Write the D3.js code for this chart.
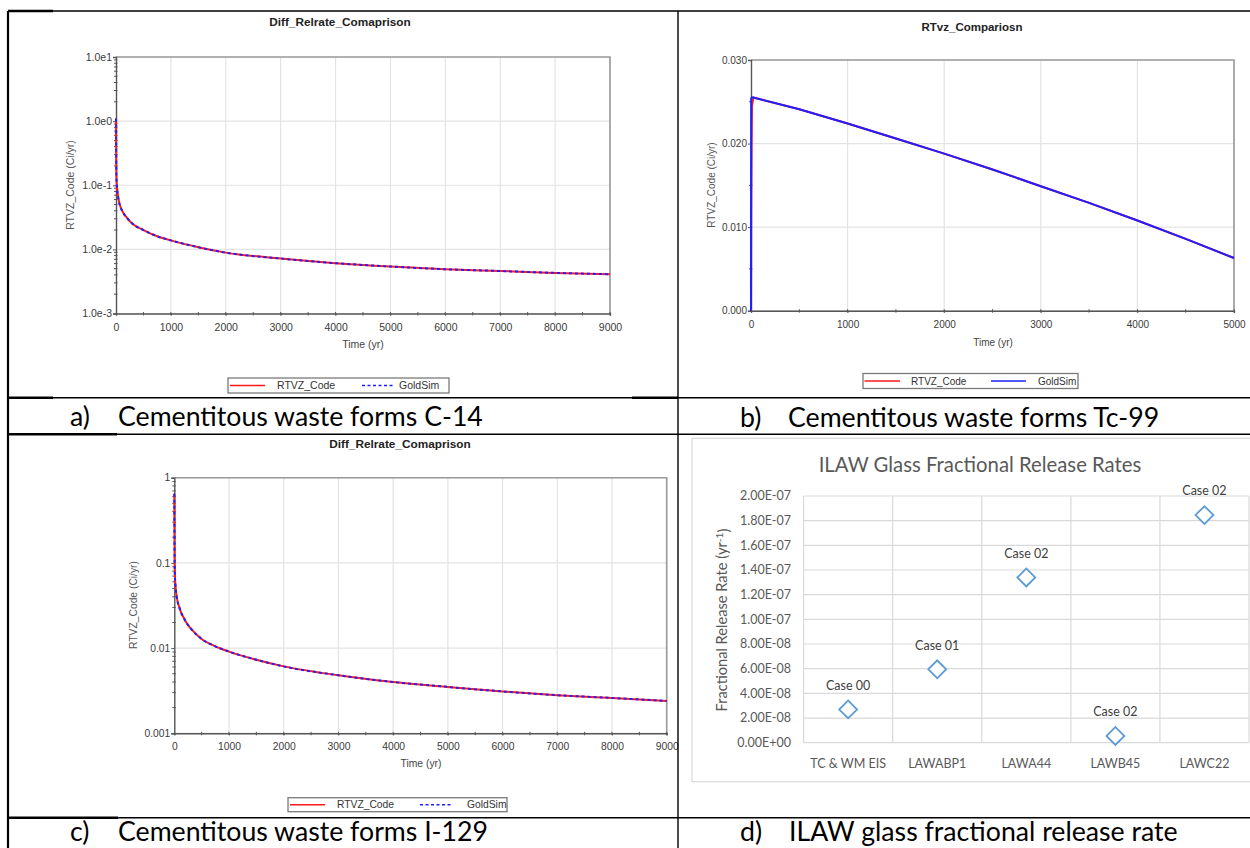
<!DOCTYPE html>
<html><head><meta charset="utf-8">
<script src="https://cdn.jsdelivr.net/npm/d3@7"></script>
<style>body{margin:0;background:#fff}svg{display:block}</style>
</head><body>
<svg id="c" width="1250" height="848"></svg>
<script>
// ---------------- DATA ----------------
const seriesNames = ["RTVZ_Code", "GoldSim"];

// a) C-14
const c14Time    = [0, 2, 5, 10, 20, 30, 50, 100, 200, 300, 500, 750, 1000, 1500, 2000, 3000, 4000, 5000, 6000, 7000, 8000, 9000];
const c14Rtvz    = [1.1, 0.5, 0.2, 0.12, 0.09, 0.075, 0.058, 0.042, 0.031, 0.025, 0.020, 0.016, 0.0138, 0.0108, 0.0089, 0.0072, 0.0061, 0.0054, 0.0049, 0.0046, 0.0043, 0.0041];
const c14GoldSim = [1.1, 0.5, 0.2, 0.12, 0.09, 0.075, 0.058, 0.042, 0.031, 0.025, 0.020, 0.016, 0.0138, 0.0108, 0.0089, 0.0072, 0.0061, 0.0054, 0.0049, 0.0046, 0.0043, 0.0041];
const c14YTicks  = [10, 1, 0.1, 0.01, 0.001];
const c14YLabels = ["1.0e1", "1.0e0", "1.0e-1", "1.0e-2", "1.0e-3"];

// b) Tc-99
const tcTime    = [0, 2, 6, 10, 25, 500, 1000, 1500, 2000, 2500, 3000, 3500, 4000, 4500, 5000];
const tcRtvz    = [0, 0.012, 0.020, 0.0245, 0.0255, 0.0241, 0.0224, 0.0206, 0.0188, 0.0169, 0.0149, 0.0129, 0.0108, 0.0086, 0.0063];
const tcGoldSim = [0, 0.0254, 0.0255, 0.0255, 0.0255, 0.0241, 0.0224, 0.0206, 0.0188, 0.0169, 0.0149, 0.0129, 0.0108, 0.0086, 0.0063];
const tcYTicks  = [0, 0.01, 0.02, 0.03];
const tcYLabels = ["0.000", "0.010", "0.020", "0.030"];

// c) I-129
const iTime    = [0, 2, 5, 10, 20, 40, 100, 200, 300, 500, 750, 1000, 1500, 2000, 3000, 4000, 5000, 6000, 7000, 8000, 9000];
const iRtvz    = [0.65, 0.3, 0.12, 0.075, 0.056, 0.042, 0.029, 0.021, 0.017, 0.0128, 0.0105, 0.0091, 0.0073, 0.0061, 0.0048, 0.0040, 0.0035, 0.0031, 0.0028, 0.0026, 0.0024];
const iGoldSim = [0.65, 0.3, 0.12, 0.075, 0.056, 0.042, 0.029, 0.021, 0.017, 0.0128, 0.0105, 0.0091, 0.0073, 0.0061, 0.0048, 0.0040, 0.0035, 0.0031, 0.0028, 0.0026, 0.0024];
const iYTicks  = [1, 0.1, 0.01, 0.001];
const iYLabels = ["1", "0.1", "0.01", "0.001"];

// d) ILAW glass
const ilawCategories = ["TC & WM EIS", "LAWABP1", "LAWA44", "LAWB45", "LAWC22"];
const ilawRates      = [2.7e-8, 5.95e-8, 1.34e-7, 5.5e-9, 1.845e-7];
const ilawCases      = ["Case 00", "Case 01", "Case 02", "Case 02", "Case 02"];
const ilawYTicks     = [0, 2e-8, 4e-8, 6e-8, 8e-8, 1e-7, 1.2e-7, 1.4e-7, 1.6e-7, 1.8e-7, 2e-7];
const ilawYLabels    = ["0.00E+00", "2.00E-08", "4.00E-08", "6.00E-08", "8.00E-08", "1.00E-07", "1.20E-07", "1.40E-07", "1.60E-07", "1.80E-07", "2.00E-07"];

const captions = [
  ["a)", "Cementitous waste forms C-14"],
  ["b)", "Cementitous waste forms Tc-99"],
  ["c)", "Cementitous waste forms I-129"],
  ["d)", "ILAW glass fractional release rate"]
];

// ---------------- DRAWING ----------------
const svg = d3.select("#c");
const ARIAL = "'Liberation Sans', Arial, sans-serif";
const CAL = "Lato, 'Open Sans', sans-serif";

function fitWidth(sel, w) {
  const l = sel.node().getComputedTextLength();
  const fs = parseFloat(sel.attr("font-size"));
  sel.attr("font-size", fs * w / l);
  return fs * w / l;
}

function goldPanel(p) {
  const g = svg.append("g");
  const x = d3.scaleLinear().domain(p.xDomain).range([p.left, p.right]);
  const y = (p.log ? d3.scaleLog() : d3.scaleLinear()).domain(p.yDomain).range([p.bottom, p.top]);
  const xGrid = d3.range(p.xDomain[0] + p.xStep, p.xDomain[1] + 1, p.xStep);
  g.selectAll(".vg").data(xGrid).join("line")
    .attr("x1", d => x(d)).attr("x2", d => x(d)).attr("y1", p.top).attr("y2", p.bottom)
    .attr("stroke", "#e3e3e3").attr("stroke-width", 1.2);
  g.selectAll(".hg").data(p.yTicks).join("line")
    .attr("x1", p.left).attr("x2", p.right).attr("y1", d => y(d)).attr("y2", d => y(d))
    .attr("stroke", "#e3e3e3").attr("stroke-width", 1.2);
  g.append("path").attr("d", `M${p.left},${p.top}H${p.right}V${p.bottom}`)
    .attr("fill", "none").attr("stroke", "#9a9a9a").attr("stroke-width", 1.6);
  const minor = [];
  if (p.log) {
    const lo = Math.log10(p.yDomain[0]), hi = Math.log10(p.yDomain[1]);
    for (let e = lo; e < hi; e++) for (let k = 2; k <= 9; k++) minor.push(k * Math.pow(10, e));
  } else {
    for (let i = 0; i < p.yTicks.length - 1; i++) minor.push((p.yTicks[i] + p.yTicks[i + 1]) / 2);
  }
  g.selectAll(".ym").data(minor).join("line")
    .attr("x1", p.left - 2).attr("x2", p.left + 1.5).attr("y1", d => y(d)).attr("y2", d => y(d))
    .attr("stroke", "#555").attr("stroke-width", 1);
  const xMinor = d3.range(p.xDomain[0] + p.xStep / 2, p.xDomain[1], p.xStep);
  g.selectAll(".xm").data(xMinor.concat(xGrid)).join("line")
    .attr("x1", d => x(d)).attr("x2", d => x(d)).attr("y1", p.bottom - 1.5).attr("y2", p.bottom + 2)
    .attr("stroke", "#555").attr("stroke-width", 1);
  const ya = g.append("g").attr("transform", `translate(${p.left},0)`)
    .call(d3.axisLeft(y).tickValues(p.yTicks).tickFormat((d, i) => p.yLabels[i]).tickSize(3).tickPadding(1));
  const xa = g.append("g").attr("transform", `translate(0,${p.bottom})`)
    .call(d3.axisBottom(x).tickValues([0].concat(xGrid)).tickFormat(d3.format("d")).tickSize(2).tickPadding(p.xPad));
  [ya, xa].forEach(a => {
    a.select(".domain").attr("stroke", "#555").attr("stroke-width", 1.4);
    a.selectAll(".tick line").attr("stroke", "#555");
    a.selectAll("text").attr("font-family", ARIAL).attr("font-size", p.fs).attr("fill", "#3a3a3a");
  });
  const line = d3.line().x(d => x(d[0])).y(d => y(d[1])).curve(p.log ? d3.curveMonotoneX : d3.curveLinear);
  g.append("path").datum(p.time.map((t, i) => [t, p.s1[i]])).attr("d", line)
    .attr("fill", "none").attr("stroke", "#ff1a1a").attr("stroke-width", 2);
  g.append("path").datum(p.time.map((t, i) => [t, p.s2[i]])).attr("d", line)
    .attr("fill", "none").attr("stroke", "#1f1fff").attr("stroke-width", 2)
    .attr("stroke-dasharray", p.dashed ? "3,3" : null);
  g.append("text").attr("x", p.titleX).attr("y", p.titleY).attr("text-anchor", "middle")
    .attr("font-family", ARIAL).attr("font-weight", "bold").attr("font-size", p.titleFs).attr("fill", "#222").text(p.title);
  g.append("text").attr("x", p.xLabelX).attr("y", p.xLabelY).attr("text-anchor", "middle")
    .attr("font-family", ARIAL).attr("font-size", p.fs).attr("fill", "#444").text("Time (yr)");
  g.append("text").attr("transform", `translate(${p.yLabelX},${p.yLabelY}) rotate(-90)`).attr("dy", "0.35em")
    .attr("text-anchor", "middle").attr("font-family", ARIAL).attr("font-size", p.fs).attr("fill", "#555").text("RTVZ_Code (Ci/yr)");
  const L = p.legend;
  const lg = g.append("g");
  lg.append("rect").attr("x", L.x).attr("y", L.y).attr("width", L.w).attr("height", L.h)
    .attr("fill", "#fff").attr("stroke", "#7a7a7a").attr("stroke-width", 1.3);
  const cy = L.y + L.h / 2;
  lg.append("line").attr("x1", L.x + L.o[0]).attr("x2", L.x + L.o[1]).attr("y1", cy).attr("y2", cy)
    .attr("stroke", "#ff1a1a").attr("stroke-width", 1.6);
  lg.append("text").attr("x", L.x + L.o[2]).attr("y", cy).attr("dy", "0.36em")
    .attr("font-family", ARIAL).attr("font-size", p.fs).attr("fill", "#333").text(seriesNames[0]);
  lg.append("line").attr("x1", L.x + L.o[3]).attr("x2", L.x + L.o[4]).attr("y1", cy).attr("y2", cy)
    .attr("stroke", "#1f1fff").attr("stroke-width", 1.6).attr("stroke-dasharray", p.dashed ? "3,2.5" : null);
  lg.append("text").attr("x", L.x + L.o[5]).attr("y", cy).attr("dy", "0.36em")
    .attr("font-family", ARIAL).attr("font-size", p.fs).attr("fill", "#333").text(seriesNames[1]);
}

goldPanel({
  log: true, xDomain: [0, 9000], yDomain: [0.001, 10], xStep: 1000,
  left: 116, right: 610, top: 57, bottom: 313.5,
  yTicks: c14YTicks, yLabels: c14YLabels, time: c14Time, s1: c14Rtvz, s2: c14GoldSim, dashed: true,
  fs: 10.5, xPad: 8, title: "Diff_Relrate_Comaprison", titleX: 340, titleY: 26, titleFs: 11.8,
  xLabelX: 363, xLabelY: 348, yLabelX: 70, yLabelY: 185,
  legend: { x: 228, y: 378, w: 221, h: 15, o: [2, 37, 49, 134, 165, 171] }
});
goldPanel({
  log: false, xDomain: [0, 5000], yDomain: [0, 0.03], xStep: 1000,
  left: 751, right: 1234, top: 60, bottom: 310.7,
  yTicks: tcYTicks, yLabels: tcYLabels, time: tcTime, s1: tcRtvz, s2: tcGoldSim, dashed: false,
  fs: 10, xPad: 8, title: "RTvz_Compariosn", titleX: 972, titleY: 31, titleFs: 11.5,
  xLabelX: 993, xLabelY: 346, yLabelX: 711, yLabelY: 185,
  legend: { x: 863, y: 373.5, w: 215, h: 15, o: [1.5, 37, 48, 128, 163, 175] }
});
goldPanel({
  log: true, xDomain: [0, 9000], yDomain: [0.001, 1], xStep: 1000,
  left: 174.3, right: 666.7, top: 477.7, bottom: 733.3,
  yTicks: iYTicks, yLabels: iYLabels, time: iTime, s1: iRtvz, s2: iGoldSim, dashed: true,
  fs: 10.3, xPad: 7, title: "Diff_Relrate_Comaprison", titleX: 400, titleY: 448, titleFs: 11.8,
  xLabelX: 421, xLabelY: 767, yLabelX: 133, yLabelY: 605,
  legend: { x: 288, y: 797.7, w: 219, h: 14, o: [2, 37, 49, 132, 164, 179] }
});

// panel d (Excel-style)
(function () {
  const g = svg.append("g");
  const left = 803.6, right = 1249, top = 496, bottom = 742.7;
  g.append("rect").attr("x", 692).attr("y", 438.3).attr("width", 620).attr("height", 343.4)
    .attr("fill", "#fff").attr("stroke", "#d9d9d9").attr("stroke-width", 1.2);
  const x = d3.scaleBand().domain(ilawCategories).range([left, right]).padding(0);
  const y = d3.scaleLinear().domain([0, 2e-7]).range([bottom, top]);
  g.selectAll(".hg").data(ilawYTicks).join("line")
    .attr("x1", left).attr("x2", right).attr("y1", d => y(d)).attr("y2", d => y(d))
    .attr("stroke", "#d9d9d9").attr("stroke-width", 1.2);
  const bounds = ilawCategories.map(c => x(c)).concat([right]);
  g.selectAll(".vg").data(bounds).join("line")
    .attr("x1", d => d).attr("x2", d => d).attr("y1", top).attr("y2", bottom)
    .attr("stroke", "#d9d9d9").attr("stroke-width", 1.2);
  g.selectAll(".yl").data(ilawYTicks).join("text")
    .attr("x", 791).attr("y", d => y(d)).attr("dy", "0.35em").attr("text-anchor", "end")
    .attr("font-family", CAL).attr("font-size", 12.5).attr("fill", "#595959")
    .text((d, i) => ilawYLabels[i]);
  g.selectAll(".xl").data(ilawCategories).join("text")
    .attr("x", d => x(d) + x.bandwidth() / 2).attr("y", 763.5).attr("dy", "0.35em").attr("text-anchor", "middle")
    .attr("font-family", CAL).attr("font-size", 12.5).attr("fill", "#595959").text(d => d);
  const sym = d3.symbol().type(d3.symbolSquare).size(160);
  g.selectAll(".pt").data(ilawRates).join("path")
    .attr("d", sym).attr("transform", (d, i) => `translate(${x(ilawCategories[i]) + x.bandwidth() / 2},${y(d)}) rotate(45)`)
    .attr("fill", "#fff").attr("stroke", "#5b9bd5").attr("stroke-width", 1.8);
  g.selectAll(".dl").data(ilawRates).join("text")
    .attr("x", (d, i) => x(ilawCategories[i]) + x.bandwidth() / 2).attr("y", d => y(d) - 24).attr("dy", "0.35em")
    .attr("text-anchor", "middle").attr("font-family", CAL).attr("font-size", 12.5).attr("fill", "#404040")
    .text((d, i) => ilawCases[i]);
  const t = g.append("text").attr("x", 980).attr("y", 465).attr("dy", "0.35em").attr("text-anchor", "middle")
    .attr("font-family", CAL).attr("font-size", 19).attr("fill", "#595959").text("ILAW Glass Fractional Release Rates");
  fitWidth(t, 323);
  const yt = g.append("text").attr("transform", "translate(722,620) rotate(-90)").attr("dy", "0.35em")
    .attr("text-anchor", "middle").attr("font-family", CAL).attr("font-size", 13.5).attr("fill", "#595959");
  yt.append("tspan").text("Fractional Release Rate (yr");
  yt.append("tspan").attr("dy", "-0.45em").attr("font-size", "0.7em").text("-1");
  yt.append("tspan").attr("dy", "0.45em").text(")");
  fitWidth(yt, 183);
})();

// ---------------- TABLE ----------------
const tg = svg.append("g").attr("stroke", "#000");
[11, 397.7, 434.3, 817.8].forEach(yy => tg.append("line").attr("x1", 8).attr("x2", 1250).attr("y1", yy).attr("y2", yy).attr("stroke-width", 1.4));
[8, 678].forEach(xx => tg.append("line").attr("x1", xx).attr("x2", xx).attr("y1", 11).attr("y2", 848).attr("stroke-width", 1.4));
[[8, 53, 11], [8, 53, 397.7], [8, 117, 434.3], [8, 118, 817.8], [632, 678, 397.7]].forEach(s =>
  tg.append("line").attr("x1", s[0]).attr("x2", s[1]).attr("y1", s[2]).attr("y2", s[2]).attr("stroke-width", 2.4));
tg.append("line").attr("x1", 8).attr("x2", 8).attr("y1", 11).attr("y2", 848).attr("stroke-width", 2.2);

// captions
const capPos = [[70, 118, 426], [740, 788, 426.5], [70, 118, 841], [740, 789, 841]];
let capFs = null;
captions.forEach((c, i) => {
  const p = capPos[i];
  svg.append("text").attr("class", "capl").attr("x", p[0]).attr("y", p[2]).attr("font-family", CAL)
    .attr("font-size", 27).attr("fill", "#000").text(c[0]);
  const t = svg.append("text").attr("x", p[1]).attr("y", p[2]).attr("font-family", CAL)
    .attr("font-size", 27).attr("fill", "#000").text(c[1]);
  if (i === 0) capFs = fitWidth(t, 365); else t.attr("font-size", capFs);
});
svg.selectAll(".capl").attr("font-size", capFs);
</script>
</body></html>
